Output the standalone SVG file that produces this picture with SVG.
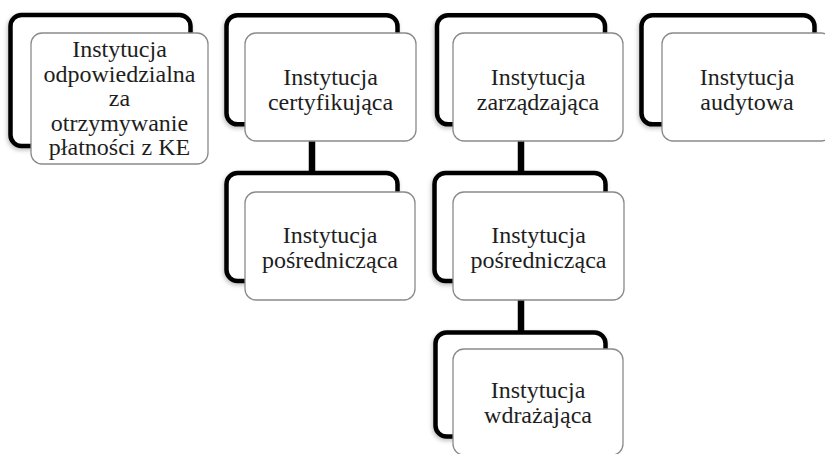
<svg xmlns="http://www.w3.org/2000/svg" width="825" height="454" viewBox="0 0 825 454">
  <style>
    .back{fill:#ffffff;stroke:#000;stroke-width:4.5;filter:url(#sh)}
    .front{fill:#ffffff;stroke:#8a8a8a;stroke-width:1.3}
    .conn{stroke:#000;stroke-width:6.5;fill:none}
    .lbl{font-family:'Liberation Serif','Times New Roman',serif;font-size:24px;fill:#1e1e1e;text-anchor:middle}
  </style>
  <defs>
    <filter id="sh" x="-10%" y="-10%" width="120%" height="125%">
      <feDropShadow dx="-1" dy="2" stdDeviation="2" flood-color="#000" flood-opacity="0.25"/>
    </filter>
  </defs>
  <rect width="825" height="454" fill="#ffffff"/>

  <g id="connectors">
    <line class="conn" x1="312" y1="141" x2="312" y2="174"/>
    <line class="conn" x1="521" y1="141" x2="521" y2="174"/>
    <line class="conn" x1="521" y1="300" x2="521" y2="333"/>
  </g>

  <g id="node-odpowiedzialna">
    <rect class="back" x="10.5" y="15" width="180" height="131" rx="11"/>
    <rect class="front" x="31" y="33" width="177" height="131" rx="11"/>
    <text class="lbl" x="119.5" y="57">Instytucja</text>
    <text class="lbl" x="119.5" y="81.5">odpowiedzialna</text>
    <text class="lbl" x="119.5" y="106">za</text>
    <text class="lbl" x="119.5" y="130.5">otrzymywanie</text>
    <text class="lbl" x="119.5" y="155">płatności z KE</text>
  </g>

  <g id="node-certyfikujaca">
    <rect class="back" x="226.5" y="15.3" width="171" height="109" rx="11"/>
    <rect class="front" x="245" y="33" width="171" height="108" rx="11"/>
    <text class="lbl" x="330.5" y="85">Instytucja</text>
    <text class="lbl" x="330.5" y="110">certyfikująca</text>
  </g>

  <g id="node-zarzadzajaca">
    <rect class="back" x="437" y="15.3" width="168" height="109" rx="11"/>
    <rect class="front" x="453" y="33" width="170" height="108" rx="11"/>
    <text class="lbl" x="538" y="85">Instytucja</text>
    <text class="lbl" x="538" y="110">zarządzająca</text>
  </g>

  <g id="node-audytowa">
    <rect class="back" x="641.5" y="15.3" width="173" height="109" rx="11"/>
    <rect class="front" x="662" y="33" width="170" height="108" rx="11"/>
    <text class="lbl" x="747" y="85">Instytucja</text>
    <text class="lbl" x="747" y="110">audytowa</text>
  </g>

  <g id="node-posredniczaca-1">
    <rect class="back" x="226.5" y="173" width="171" height="108" rx="11"/>
    <rect class="front" x="245" y="192" width="170" height="108" rx="11"/>
    <text class="lbl" x="330" y="243">Instytucja</text>
    <text class="lbl" x="330" y="268">pośrednicząca</text>
  </g>

  <g id="node-posredniczaca-2">
    <rect class="back" x="434.5" y="173" width="171" height="108" rx="11"/>
    <rect class="front" x="453" y="192" width="171" height="108" rx="11"/>
    <text class="lbl" x="538.5" y="243">Instytucja</text>
    <text class="lbl" x="538.5" y="268">pośrednicząca</text>
  </g>

  <g id="node-wdrazajaca">
    <rect class="back" x="435.5" y="332.5" width="170" height="104" rx="11"/>
    <rect class="front" x="453" y="349" width="170" height="106" rx="11"/>
    <text class="lbl" x="538" y="398">Instytucja</text>
    <text class="lbl" x="538" y="423">wdrażająca</text>
  </g>
</svg>
